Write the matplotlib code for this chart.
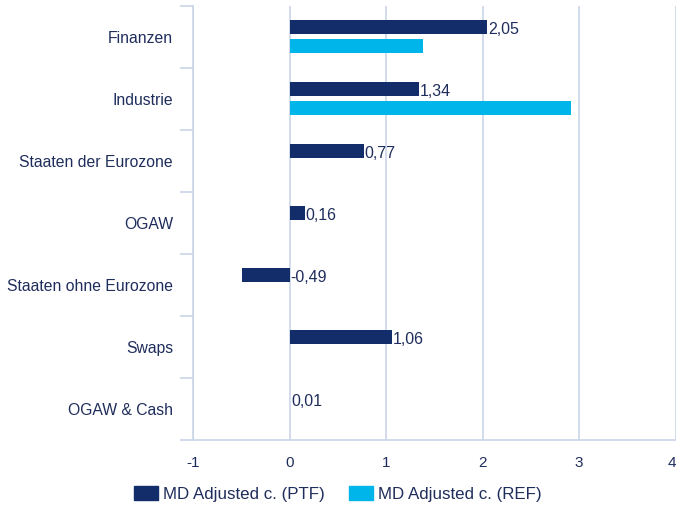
import numpy as np
import matplotlib.pyplot as plt
from matplotlib.patches import Patch

plt.rcParams['font.family'] = ['Liberation Sans', 'DejaVu Sans']

categories = ["Finanzen", "Industrie", "Staaten der Eurozone", "OGAW",
              "Staaten ohne Eurozone", "Swaps", "OGAW & Cash"]
ptf = [2.05, 1.34, 0.77, 0.16, -0.49, 1.06, 0.01]
ref = [1.38, 2.92, 0, 0, 0, 0, 0]
xticks = [-1, 0, 1, 2, 3, 4]

navy = "#132d6b"
cyan = "#00b5e9"
txt = "#1f2d5c"
grid = "#c9d5e8"

fig = plt.figure(figsize=(6.76, 5.08), dpi=100)
ax = fig.add_axes([0.2855, 0.134, 0.714, 0.854])

y = np.arange(len(categories))
h = 0.23
ax.barh(y - 0.16, ptf, height=h, color=navy, zorder=3)
ax.barh(y + 0.145, ref, height=h, color=cyan, zorder=3)

# value labels at the bar end (or at 0 for negatives)
for yi, v in zip(y, ptf):
    ax.text(max(v, 0) + 0.005, yi - 0.12, f"{v:.2f}".replace(".", ","),
            ha="left", va="center", fontsize=11.5, color=txt, zorder=4)

ax.set_xlim(-1, 4)
ax.set_ylim(len(categories) - 0.5, -0.5)
ax.set_xticks(xticks)
ax.set_xticklabels([str(t) for t in xticks])
ax.get_xticklabels()[-1].set_horizontalalignment("right")  # keep "4" inside the figure
ax.set_yticks(y)
ax.set_yticklabels(categories)
ax.set_yticks(np.arange(-0.5, len(categories)), minor=True)

ax.tick_params(axis="x", length=0, pad=11.5, labelsize=11, labelcolor=txt)
ax.tick_params(axis="y", which="major", length=0, pad=14.4, labelsize=11.3, labelcolor=txt)
ax.tick_params(axis="y", which="minor", length=9.4, width=1.2, color=grid)

ax.grid(axis="x", color=grid, linewidth=1.2, zorder=0)
for s in ["top", "right"]:
    ax.spines[s].set_visible(False)
for s in ["left", "bottom"]:
    ax.spines[s].set_color(grid)
    ax.spines[s].set_linewidth(1.2)

handles = [Patch(color=navy, label="MD Adjusted c. (PTF)"),
           Patch(color=cyan, label="MD Adjusted c. (REF)")]
fig.legend(handles=handles, loc="center", bbox_to_anchor=(0.5, 0.028), ncol=2,
           frameon=False, fontsize=12.2, labelcolor=txt, handlelength=1.4,
           handleheight=0.9, columnspacing=1.45, handletextpad=0.3,
           borderpad=0, borderaxespad=0)

fig.savefig("out.png", dpi=100)
